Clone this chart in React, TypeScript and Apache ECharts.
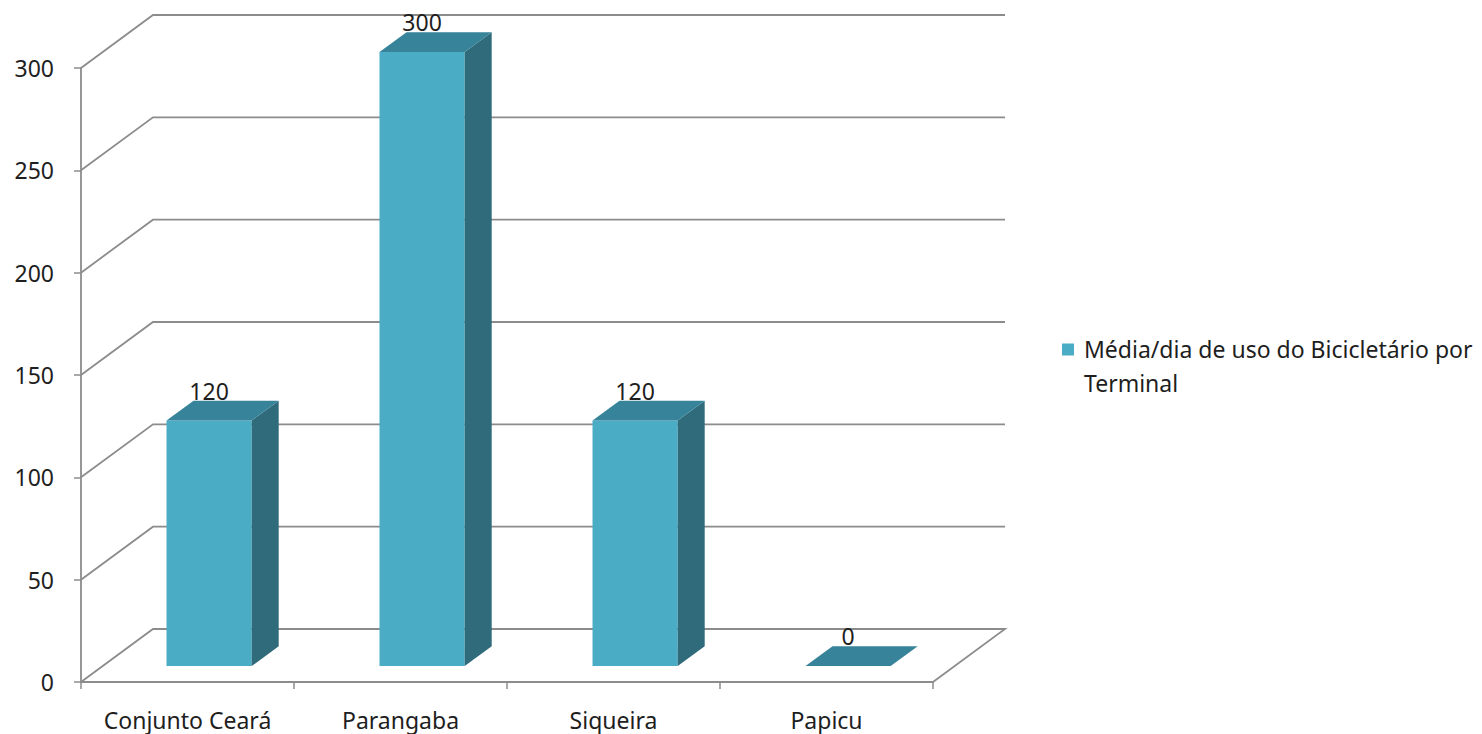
import React, { useEffect, useRef } from "react";
import * as echarts from "echarts";

const categories = ["Conjunto Ceará", "Parangaba", "Siqueira", "Papicu"];
const values = [120, 300, 120, 0];
const yTicks = [0, 50, 100, 150, 200, 250, 300];
const seriesName = "Média/dia de uso do Bicicletário por Terminal";

const FONT = "'Noto Sans'";
const FS = 23;
const TEXT_COLOR = "#1e1e1e";
const LINE_COLOR = "#8c8c8c";
const DX = 72;
const DY = -53;

export default function App() {
  const ref = useRef<HTMLDivElement>(null);
  useEffect(() => {
    if (!ref.current) return;
    const chart = echarts.init(ref.current, undefined, { renderer: "svg" });

    const wallItem = (params: any, api: any) => {
      const cs = params.coordSys;
      const v = api.value(1);
      const y = api.coord([0, v])[1];
      const xl = cs.x;
      const xr = cs.x + cs.width;
      const pts: number[][] = [
        [xl, y],
        [xl + DX, y + DY],
        [xr + DX, y + DY],
      ];
      if (v === 0) pts.push([xr, y]);
      return {
        type: "polyline",
        shape: { points: pts },
        style: { stroke: LINE_COLOR, lineWidth: 1.8, fill: "none" },
        silent: true,
      };
    };

    const barItem = (params: any, api: any) => {
      const idx = api.value(0);
      const v = api.value(1);
      const base = api.coord([idx, 0]);
      const top = api.coord([idx, v]);
      const band = api.size([1, 0])[0];
      const w = band * 0.4;
      const ox = DX * 0.3;
      const oy = DY * 0.3;
      const sx = DX * 0.375;
      const sy = DY * 0.375;
      const L = base[0] - w / 2 + ox;
      const R = L + w;
      const B = base[1] + oy;
      const T = top[1] + oy;
      return {
        type: "group",
        children: [
          {
            type: "polygon",
            shape: { points: [[L, T], [R, T], [R, B], [L, B]] },
            style: { fill: "#4bacc6" },
          },
          {
            type: "polygon",
            shape: { points: [[R, T], [R + sx, T + sy], [R + sx, B + sy], [R, B]] },
            style: { fill: "#2f6b7b" },
          },
          {
            type: "polygon",
            shape: { points: [[L, T], [R, T], [R + sx, T + sy], [L + sx, T + sy]] },
            style: { fill: "#37849a" },
          },
          {
            type: "text",
            x: (L + R) / 2,
            y: T - 30,
            style: {
              text: String(v),
              align: "center",
              verticalAlign: "middle",
              font: `${FS}px ${FONT}`,
              fill: TEXT_COLOR,
            },
          },
        ],
      };
    };

    chart.setOption({
      animation: false,
      backgroundColor: "#ffffff",
      legend: {
        show: true,
        left: 1057,
        top: 327,
        itemWidth: 17,
        itemHeight: 45,
        selectedMode: false,
        data: [
          {
            name: seriesName,
            icon: "path://M0,0h12v12h-12z M17,45",
            itemStyle: { color: "#4bacc6" },
          },
        ],
        textStyle: {
          fontFamily: FONT,
          fontSize: FS,
          color: TEXT_COLOR,
          width: 415,
          overflow: "break",
          lineHeight: 34,
        },
      },
      grid: { left: 81, top: 68, width: 852, height: 614, containLabel: false },
      xAxis: {
        type: "category",
        data: categories,
        boundaryGap: true,
        axisLine: { show: true, lineStyle: { color: LINE_COLOR, width: 1.8 } },
        axisTick: { show: true, interval: 0, length: 7, lineStyle: { color: LINE_COLOR, width: 1.5 } },
        axisLabel: {
          interval: 0,
          hideOverlap: false,
          margin: 26,
          fontFamily: FONT,
          fontSize: FS,
          color: TEXT_COLOR,
        },
        splitLine: { show: false },
      },
      yAxis: {
        type: "value",
        min: 0,
        max: 300,
        interval: 50,
        axisLine: { show: true, lineStyle: { color: LINE_COLOR, width: 1.8 } },
        axisTick: { show: true, length: 7, lineStyle: { color: LINE_COLOR, width: 1.5 } },
        axisLabel: { margin: 27, fontFamily: FONT, fontSize: FS, color: TEXT_COLOR },
        splitLine: { show: false },
      },
      series: [
        {
          type: "custom",
          name: "walls",
          silent: true,
          clip: false,
          z: 1,
          data: yTicks.map((v) => [0, v]),
          renderItem: wallItem,
        },
        {
          type: "custom",
          name: seriesName,
          clip: false,
          z: 2,
          itemStyle: { color: "#4bacc6" },
          data: values.map((v, i) => [i, v]),
          renderItem: barItem,
        },
      ],
    });
    return () => chart.dispose();
  }, []);
  return (
    <div
      ref={ref}
      style={{ position: "fixed", left: 0, top: 0, width: 1482, height: 734, background: "#fff" }}
    />
  );
}
